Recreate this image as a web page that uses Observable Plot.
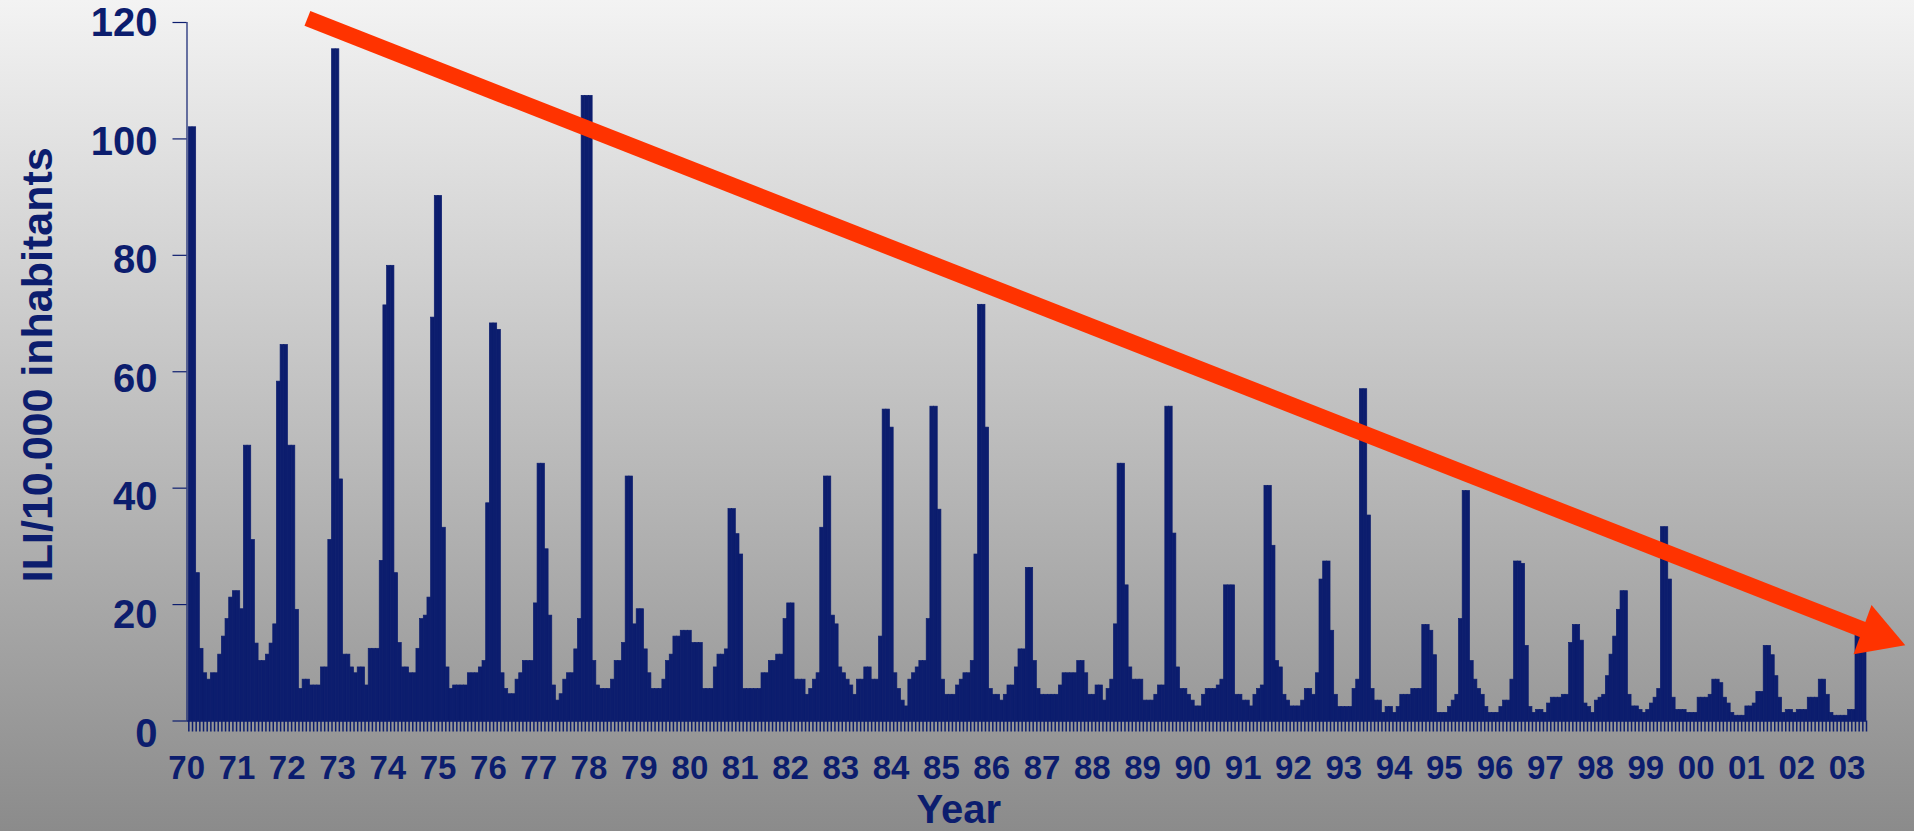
<!DOCTYPE html>
<html><head><meta charset="utf-8">
<script src="https://cdn.jsdelivr.net/npm/d3@7"></script>
<script src="https://cdn.jsdelivr.net/npm/@observablehq/plot@0.6"></script>
<style>
html, body { margin: 0; padding: 0; background: #bebebe; overflow: hidden; }
#chart svg { display: block; }
</style></head>
<body><div id="chart"></div>
<script>
// ILI per 10.000 inhabitants, one value per period; each array holds the bars between two year labels
const ili70 = [102, 102, 25.4, 12.4, 8.2, 7.1, 8.2, 8.2, 11.4, 14.5, 17.5, 21.2, 22.3];
const ili71 = [22.3, 19.2, 47.3, 47.3, 31.1, 13.3, 10.3, 10.3, 11.4, 13.3, 16.6, 58.3, 64.6, 64.6];
const ili72 = [47.3, 47.3, 19.1, 5.5, 7.1, 7.1, 6.1, 6.1, 6.1, 9.2, 9.2, 31.1, 115.4, 115.4];
const ili73 = [41.5, 11.4, 11.4, 9.2, 8.2, 9.2, 9.2, 6.1, 12.4, 12.4, 12.4, 27.5, 71.4];
const ili74 = [78.2, 78.2, 25.4, 13.4, 9.2, 9.2, 8.2, 8.2, 12.4, 17.5, 18.1, 21.2, 69.3, 90.2];
const ili75 = [90.2, 33.2, 9.2, 5.5, 6.1, 6.1, 6.1, 6.1, 8.2, 8.2, 8.2, 9.2, 10.3, 37.4];
const ili76 = [68.3, 68.3, 67.2, 8.2, 5.5, 4.6, 4.6, 7.1, 8.2, 10.3, 10.3, 10.3, 20.2, 44.2];
const ili77 = [44.2, 29.5, 18.1, 6.1, 3.5, 4.6, 7.1, 8.2, 8.2, 12.3, 17.5, 107.4, 107.4];
const ili78 = [107.4, 10.3, 6.1, 5.5, 5.5, 5.5, 7.1, 10.3, 10.3, 13.4, 42.0, 42.0, 16.6, 19.2];
const ili79 = [19.2, 12.3, 8.2, 5.5, 5.5, 5.5, 7.1, 10.3, 11.4, 14.5, 14.5, 15.5, 15.5, 15.5];
const ili80 = [13.4, 13.4, 13.4, 5.5, 5.5, 5.5, 9.2, 11.4, 11.4, 12.3, 36.4, 36.4, 32.1, 28.6];
const ili81 = [5.5, 5.5, 5.5, 5.5, 5.5, 8.2, 8.2, 10.3, 10.3, 11.4, 11.4, 17.5, 20.2];
const ili82 = [20.2, 7.1, 7.1, 7.1, 4.5, 5.5, 7.1, 8.2, 33.2, 42.0, 42.0, 18.1, 16.6, 9.2];
const ili83 = [8.2, 7.1, 6.1, 4.5, 7.1, 7.1, 9.2, 9.2, 7.1, 7.1, 14.5, 53.5, 53.5, 50.4];
const ili84 = [8.2, 5.5, 3.5, 2.5, 7.1, 8.2, 9.2, 10.3, 10.3, 17.5, 54, 54, 36.3];
const ili85 = [7.1, 4.5, 4.5, 4.5, 6.1, 7.1, 8.2, 8.2, 10.3, 28.6, 71.5, 71.5, 50.4, 5.5];
const ili86 = [4.5, 4.5, 3.5, 4.5, 6.1, 6.1, 9.2, 12.3, 12.3, 26.3, 26.3, 10.3, 5.5, 4.5];
const ili87 = [4.5, 4.5, 4.5, 4.5, 6.1, 8.2, 8.2, 8.2, 8.2, 10.3, 10.3, 8.2, 4.5, 4.5];
const ili88 = [6.1, 6.1, 3.5, 5.5, 7.1, 16.6, 44.2, 44.2, 23.3, 9.2, 7.1, 7.1, 7.1];
const ili89 = [3.5, 3.5, 3.5, 4.5, 6.1, 6.1, 54, 54, 32.2, 9.2, 5.5, 5.5, 4.5, 3.5];
const ili90 = [2.5, 2.5, 4.5, 5.5, 5.5, 5.5, 6.1, 7.1, 23.3, 23.3, 23.3, 4.5, 4.5, 3.5];
const ili91 = [3.5, 2.5, 4.5, 5.5, 6.1, 40.4, 40.4, 30.1, 10.3, 9.2, 4.5, 3.5, 2.5, 2.5];
const ili92 = [2.5, 3.5, 5.5, 5.5, 4.5, 8.2, 24.3, 27.4, 27.4, 15.5, 4.5, 2.4, 2.4];
const ili93 = [2.4, 2.4, 5.5, 7.1, 57, 57, 35.3, 5.5, 3.5, 3.5, 1.4, 2.4, 2.4, 1.4];
const ili94 = [2.4, 4.5, 4.5, 4.5, 5.5, 5.5, 5.5, 16.5, 16.5, 15.5, 11.3, 1.4, 1.4, 1.4];
const ili95 = [2.4, 3.5, 4.5, 17.5, 39.5, 39.5, 10.3, 7.1, 5.5, 4.5, 2.4, 1.4, 1.4, 1.4];
const ili96 = [2.4, 3.5, 3.5, 7.1, 27.4, 27.4, 27.0, 12.9, 2.4, 1.4, 1.9, 1.9, 1.4];
const ili97 = [3.0, 4.0, 4.0, 4.0, 4.5, 4.5, 13.4, 16.5, 16.5, 13.8, 3.0, 2.4, 1.4, 3.5];
const ili98 = [4.0, 4.5, 7.7, 11.4, 14.5, 19.1, 22.3, 22.3, 4.5, 2.5, 2.5, 1.9, 1.4, 1.9];
const ili99 = [3.0, 4.0, 5.5, 33.3, 33.3, 24.3, 4.0, 1.9, 1.9, 1.9, 1.4, 1.4, 1.4, 4.0];
const ili00 = [4.0, 4.0, 4.5, 7.1, 7.1, 6.5, 4.0, 3.0, 1.4, 0.9, 0.9, 0.9, 2.5];
const ili01 = [2.5, 3.0, 5.0, 5.0, 12.9, 12.9, 11.3, 7.7, 4.0, 1.4, 1.9, 1.9, 1.4, 1.9];
const ili02 = [1.9, 1.9, 4.0, 4.0, 4.0, 7.1, 7.1, 4.5, 1.4, 0.9, 0.9, 0.9, 0.9, 1.9];
const ili03 = [1.9, 14.7, 14.7, 14.7];

// Year tick labels and where they sit, in period units along the axis
const yearLabels = ["70","71","72","73","74","75","76","77","78","79","80","81","82","83","84","85","86","87","88","89","90","91","92","93","94","95","96","97","98","99","00","01","02","03"];
const yearTickPos = [-0.6, 13.1, 26.8, 40.5, 54.2, 67.9, 81.6, 95.3, 109.0, 122.7, 136.5, 150.2, 163.9, 177.6, 191.3, 205.0, 218.7, 232.4, 246.1, 259.8, 273.5, 287.2, 300.9, 314.6, 328.3, 342.0, 355.8, 369.5, 383.2, 396.9, 410.6, 424.3, 438.0, 451.7];
const yTicks = [0, 20, 40, 60, 80, 100, 120];

// Downward trend arrow (data units: period index, ILI value)
const trendLine = [{x1: 32.3, y1: 120.7, x2: 458, y2: 15.2}];
const trendHead = [{x: 459.8, y: 14.8}];

const periods = [ili70, ili71, ili72, ili73, ili74, ili75, ili76, ili77, ili78, ili79,
  ili80, ili81, ili82, ili83, ili84, ili85, ili86, ili87, ili88, ili89,
  ili90, ili91, ili92, ili93, ili94, ili95, ili96, ili97, ili98, ili99,
  ili00, ili01, ili02, ili03].flat();
const N = periods.length;
const bars = periods.map((v, i) => ({start: i, end: i + 1, value: v}));
const labelAt = new Map(yearTickPos.map((p, i) => [p, yearLabels[i]]));

const navy = "#0c1d6e";
const red = "#ff3300";
const font = "'Liberation Sans', Arial, Helvetica, sans-serif";

// y tick labels sit a little lower than their ticks, more so towards the bottom
const yLabelMarks = yTicks.map(t => Plot.text([t], {
  y: d => d, text: d => String(d), frameAnchor: "left", dx: -29.5, dy: 1 + (120 - t) / 10,
  textAnchor: "end", lineAnchor: "middle", fontSize: 40, fontWeight: "bold", fill: navy
}));

const chart = Plot.plot({
  width: 1914,
  height: 831,
  marginLeft: 186.5,
  marginRight: 48,
  marginTop: 22,
  marginBottom: 110.5,
  x: {domain: [-0.5, N]},
  y: {domain: [0, 120], label: null},
  style: {
    background: "linear-gradient(to bottom, #f3f3f3 0%, #8b8b8b 100%)",
    color: navy,
    fontFamily: font,
    fontWeight: "bold"
  },
  marks: [
    Plot.rectY(bars, {x1: "start", x2: "end", y: "value", fill: navy, stroke: navy, strokeWidth: 0.7}),
    Plot.ruleY([0], {stroke: navy, strokeWidth: 1.5}),
    Plot.ruleX([-0.5], {y1: 0, y2: 120, stroke: navy, strokeWidth: 1.2}),
    Plot.axisY({ticks: yTicks, tickSize: 14, tickFormat: () => "", label: null, stroke: navy, strokeWidth: 1.2}),
    ...yLabelMarks,
    Plot.axisX({ticks: d3.range(0, N + 1), tickSize: 11, tickFormat: () => "", label: null, stroke: navy, strokeWidth: 1.5}),
    Plot.axisX({ticks: yearTickPos, tickFormat: d => labelAt.get(d), tickSize: 0, tickPadding: 35, fontSize: 33, fontWeight: "bold", label: null}),
    Plot.text(["ILI/10.000 inhabitants"], {text: d => d, frameAnchor: "left", rotate: -90, dx: -149, dy: -7, lineAnchor: "middle", textAnchor: "middle", fontSize: 43, fontWeight: "bold", fill: navy}),
    Plot.text(["Year"], {text: d => d, frameAnchor: "bottom", dx: -68, dy: 73.4, lineAnchor: "top", fontSize: 40, fontWeight: "bold", fill: navy}),
    Plot.link(trendLine, {x1: "x1", y1: "y1", x2: "x2", y2: "y2", stroke: red, strokeWidth: 16}),
    Plot.dot(trendHead, {x: "x", y: "y", symbol: "triangle", r: 19.5, fill: red, rotate: 110})
  ]
});
document.getElementById("chart").appendChild(chart);
</script>
</body></html>
